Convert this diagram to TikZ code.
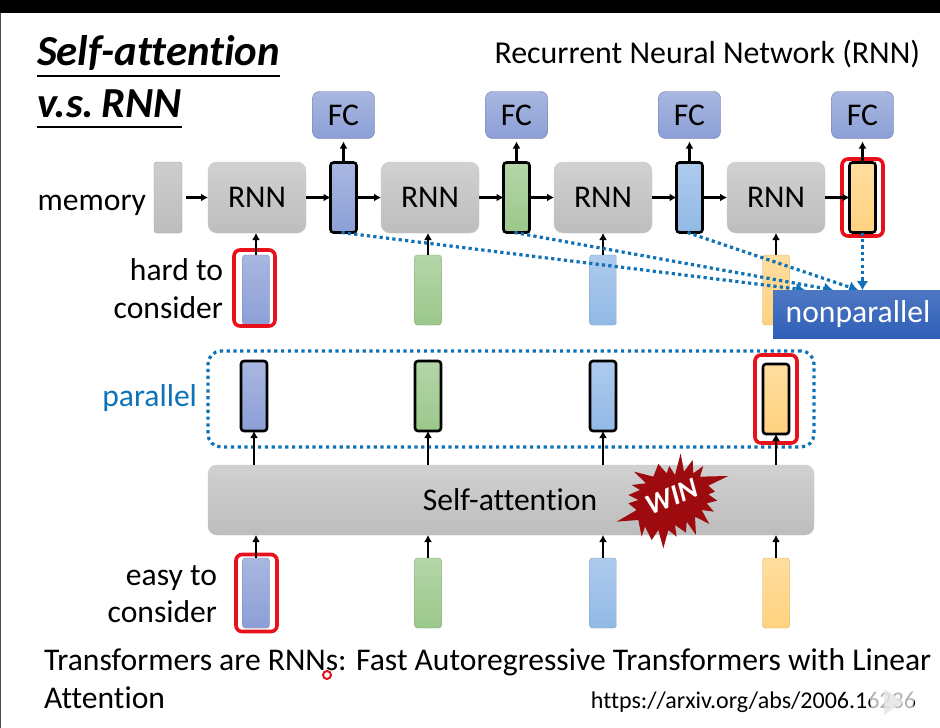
\documentclass[tikz,border=0pt]{standalone}
\usepackage{fontspec}
\setmainfont[Ligatures=NoCommon]{Carlito}
\usetikzlibrary{arrows.meta, positioning}
\newcommand\fsz[1]{\fontsize{#1}{#1}\selectfont}
\definecolor{dotblue}{HTML}{0F72B8}
\definecolor{winred}{HTML}{9E0B0F}
\definecolor{boxred}{HTML}{E8101A}
\definecolor{fcblue}{HTML}{8C9FD6}
\definecolor{hgreen}{HTML}{9BC88B}
\definecolor{hlblue}{HTML}{92B9E6}
\definecolor{hyellow}{HTML}{FFD27F}
\definecolor{hgrey}{HTML}{BDBDBD}
\definecolor{npblue}{HTML}{2F5FB8}

\begin{document}
\begin{tikzpicture}[
      x=1pt, y=-1pt,
      >={Latex[length=7pt,width=8pt]},
      node distance=24.5pt and 24.5pt,
      every node/.append style={font=\fsz{31.6}, inner sep=0pt, outer sep=0pt},
      greybox/.style={rectangle, rounded corners=9pt, top color=hgrey!70!white, bottom color=hgrey,
                      draw=hgrey!80!white, minimum height=71pt, minimum width=98pt, align=center},
      fcbox/.style={rectangle, rounded corners=7pt, top color=fcblue!75!white, bottom color=fcblue,
                    draw=fcblue!75!black, minimum height=47pt, minimum width=62pt},
      bar/.style={rectangle, rounded corners=3pt, minimum width=27pt, minimum height=70pt,
                  top color=#1!75!white, bottom color=#1, draw=#1!85!black},
      hbar/.style={bar=#1, draw=black, line width=2.6pt, minimum width=26pt},
      redbox/.style={rectangle, rounded corners=6pt, draw=boxred, line width=3.6pt,
                     minimum width=41pt, minimum height=76pt},
      link/.style={->, line width=2.2pt},
      dotlink/.style={-{Latex[length=9pt,width=12pt]}, dotblue, line width=3.2pt,
                      dash pattern=on 3.2pt off 3.2pt},
      label/.style={anchor=base east},
    ]
      \useasboundingbox (0,0) rectangle (940,728);
      \fill[white] (0,0) rectangle (940,728);
      \fill[black] (0,0) rectangle (940,13);
      \fill[black!70] (0,13) rectangle (1,728);

      % titles
      \node[anchor=base west, font=\fsz{42.8}\bfseries\itshape] (title1) at (37,65) {Self-attention};
      \node[anchor=base west, font=\fsz{42.8}\bfseries\itshape] (title2) at (37,117) {v.s.\hspace{-6pt} RNN};
      \draw[line width=1.2pt] ([yshift=-11pt]title1.base west) -- ([yshift=-11pt]title1.base east);
      \draw[line width=1.2pt] ([yshift=-10pt]title2.base west) -- ([yshift=-10pt]title2.base east);
      \node[anchor=base east, font=\fsz{31.9}] (rnntitle) at (920,63) {Recurrent Neural Network (RNN)};

      % rnn row
      \node[greybox] (RNN1) at (257,197.5) {RNN};
      \node[bar=hgrey, minimum width=28pt, minimum height=71pt] (mem) at (168,197.5) {};
      \node[hbar=fcblue, right=of RNN1] (h1) {};
      \node[greybox, right=of h1] (RNN2) {RNN};
      \node[hbar=hgreen, right=of RNN2] (h2) {};
      \node[greybox, right=of h2] (RNN3) {RNN};
      \node[hbar=hlblue, right=of RNN3] (h3) {};
      \node[greybox, right=of h3] (RNN4) {RNN};
      \node[hbar=hyellow, right=of RNN4] (h4) {};
      \node[fcbox, above=24pt of h1] (FC1) {FC};
      \node[fcbox, above=24pt of h2] (FC2) {FC};
      \node[fcbox, above=24pt of h3] (FC3) {FC};
      \node[fcbox, above=24pt of h4] (FC4) {FC};
      \node[redbox, minimum height=77pt] (r1) at (h4) {};

      % inputs
      \node[bar=fcblue, below=22pt of RNN1, xshift=-1pt] (in1) {};
      \node[bar=hgreen, below=22pt of RNN2, xshift=-2pt] (in2) {};
      \node[bar=hlblue, below=22pt of RNN3] (in3) {};
      \node[bar=hyellow, below=22pt of RNN4] (in4) {};
      \node[redbox] (r2) at (254.5,288) {};

      \node[label] (mlabel) at (146,210) {memory};
      \node[label] (hard1) at (223,280) {hard to};
      \node[label] (hard2) at (223,318) {consider};

      \draw[link, shorten <=4pt] (mem) -- (RNN1);
      \draw[link] (RNN1) -- (h1);
      \draw[link] (h1) -- (RNN2);
      \draw[link] (RNN2) -- (h2);
      \draw[link] (h2) -- (RNN3);
      \draw[link] (RNN3) -- (h3);
      \draw[link] (h3) -- (RNN4);
      \draw[link] (RNN4) -- (h4);
      \draw[link, shorten >=3pt] (h1) -- (FC1);
      \draw[link, shorten >=3pt] (h2) -- (FC2);
      \draw[link, shorten >=3pt] (h3) -- (FC3);
      \draw[link, shorten >=3pt] (h4) -- (FC4);
      \draw[link] (in1.north) -- (in1.north |- RNN1.south);
      \draw[link] (in2.north) -- (in2.north |- RNN2.south);
      \draw[link] (in3.north) -- (in3.north |- RNN3.south);
      \draw[link] (in4.north) -- (in4.north |- RNN4.south);

      % nonparallel
      \coordinate (np1) at (805,290);
      \coordinate (np2) at (833,290);
      \coordinate (np3) at (858,290);
      \coordinate (np4) at (h4.south |- 0,290);
      \draw[dotlink] ([xshift=-2pt]h1.south) -- (np1);
      \draw[dotlink] ([xshift=-2pt]h2.south) -- (np2);
      \draw[dotlink] ([xshift=-2pt]h3.south) -- (np3);
      \draw[dotlink] (h4.south) -- (np4);
      \node[rectangle, top color=npblue!85!white, bottom color=npblue, text=white,
            minimum width=170pt, minimum height=48pt, anchor=north west] (nonpar) at (773,290) {nonparallel};

      % parallel
      \node[draw=dotblue, line width=3.2pt, dash pattern=on 3.2pt off 3.6pt, rounded corners=13pt,
            minimum width=606pt, minimum height=96pt] (pbox) at (511,399) {};
      \node[hbar=fcblue, below=36pt of in1, xshift=-2pt] (p1) {};
      \node[hbar=hgreen, below=36pt of in2] (p2) {};
      \node[hbar=hlblue, below=36pt of in3] (p3) {};
      \node[hbar=hyellow, below=39pt of in4] (p4) {};
      \node[redbox, minimum width=42pt, minimum height=88pt] (r3) at (p4) {};
      \node[anchor=base east, text=dotblue] (plabel) at (197,406) {parallel};

      % self-attention
      \node[greybox, minimum width=606pt, minimum height=70pt] (SA) at (511,500) {};
      \node (satext) at (510,500) {Self-attention};
      \draw[link] (p1 |- SA.north) -- (p1.south);
      \draw[link] (p2 |- SA.north) -- (p2.south);
      \draw[link] (p3 |- SA.north) -- (p3.south);
      \draw[link] (p4 |- SA.north) -- (p4.south);

      % win
      \begin{scope}[shift={(560,340)}, x=0.3333pt, y=-0.3333pt]
        \fill[winred] (362,340) -- (372,395) -- (398,360) -- (400,400) -- (430,378) -- (420,410)
          -- (505,408) -- (445,437) -- (465,455) -- (445,463) -- (472,482) -- (440,490) -- (462,515)
          -- (425,510) -- (448,552) -- (405,530) -- (408,585) -- (380,545) -- (378,578) -- (345,555)
          -- (350,590) -- (325,570) -- (310,625) -- (295,570) -- (275,600) -- (255,560) -- (245,590)
          -- (235,540) -- (170,545) -- (230,510) -- (205,490) -- (235,480) -- (205,465) -- (240,450)
          -- (215,435) -- (258,430) -- (222,395) -- (280,410) -- (295,372) -- (320,400) -- (328,378)
          -- (345,405) -- cycle;
      \end{scope}
      \node[text=white, rotate=22, font=\fsz{29}\bfseries\itshape] (win) at (672,497) {WIN};

      % bottom inputs
      \node[bar=fcblue, below=233pt of in1] (e1) {};
      \node[bar=hgreen, below=233pt of in2] (e2) {};
      \node[bar=hlblue, below=233pt of in3] (e3) {};
      \node[bar=hyellow, below=233pt of in4] (e4) {};
      \node[redbox, minimum height=77pt] (r4) at (256.5,593) {};
      \draw[link] (e1.north) -- (e1.north |- SA.south);
      \draw[link] (e2.north) -- (e2.north |- SA.south);
      \draw[link] (e3.north) -- (e3.north |- SA.south);
      \draw[link] (e4.north) -- (e4.north |- SA.south);
      \node[label] (easy1) at (217,585) {easy to};
      \node[label] (easy2) at (217,622) {consider};

      % reference
      \node[anchor=base west] (paper1) at (44,670) {Transformers are RNNs: Fast Autoregressive Transformers with Linear};
      \node[anchor=base west] (paper2) at (44,708) {Attention};
      \node[anchor=base east, font=\fsz{24}] (url) at (916,708) {https://arxiv.org/abs/2006.16236};
      \node[circle, draw=boxred, fill=white, line width=2pt, minimum size=8pt] (cursor) at (327,675) {};

      % player mark
      \fill[white, opacity=0.7] (892,700) ellipse [x radius=22pt, y radius=24pt];
      \fill[gray!20, opacity=0.8] (884,689) -- (904,702) -- (884,715) -- cycle;
    \end{tikzpicture}
\end{document}
